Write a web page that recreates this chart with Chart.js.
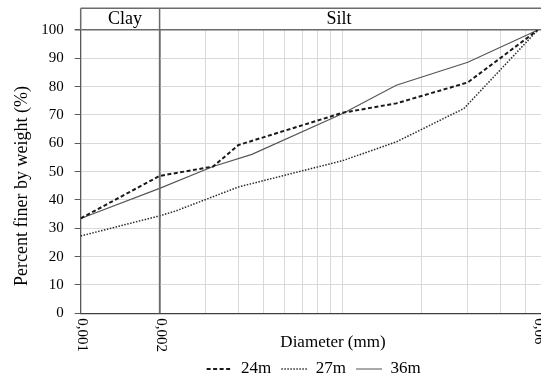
<!DOCTYPE html>
<html><head><meta charset="utf-8">
<script src="https://cdn.jsdelivr.net/npm/chart.js@4/dist/chart.umd.min.js"></script>
<style>
html,body{margin:0;padding:0;overflow:hidden;background:#fff;width:541px;height:380px;}
#wrap{position:relative;width:548px;height:388px;}
canvas{display:block;}
</style></head><body>
<div id="wrap"><canvas id="c" width="548" height="388"></canvas></div>
<script>
// ---- data ----
const seriesNames = ["24m", "27m", "36m"];
const diam24 = [0.001, 0.002, 0.0032, 0.004, 0.01, 0.016, 0.03, 0.0555];
const pct24  = [33.5, 48.5, 51.8, 59.4, 70.8, 74.1, 81.5, 100];
const diam27 = [0.001, 0.002, 0.0023, 0.004, 0.01, 0.016, 0.029, 0.0555];
const pct27  = [27.3, 34.4, 36.1, 44.6, 53.9, 60.5, 72.3, 100];
const diam36 = [0.001, 0.002, 0.0032, 0.0045, 0.01, 0.016, 0.03, 0.0555];
const pct36  = [33.5, 44.1, 51.8, 56.1, 70.5, 80.5, 88.6, 100];
const xGridValues = [0.001,0.002,0.003,0.004,0.005,0.006,0.007,0.008,0.009,
                     0.01,0.02,0.03,0.04,0.05,0.06];
const xLabelValues = [0.001, 0.002, 0.0555];
const xLabelTexts  = ["0,001", "0,002", "0,06"];
const zoneNames = ["Clay", "Silt"];
const zoneBoundary = 0.002;
const yTitle = "Percent finer by weight (%)";
const xTitle = "Diameter (mm)";

const FONT = "'Liberation Serif', 'Times New Roman', serif";
const pts = (xs, ys) => xs.map((x, i) => ({x: x, y: ys[i]}));

const overlay = {
  id: 'overlay',
  afterDraw(chart) {
    const ctx = chart.ctx, ca = chart.chartArea;
    const xs = chart.scales.x;
    const xb = xs.getPixelForValue(zoneBoundary);
    const boxTop = 8.3;
    ctx.save();
    ctx.strokeStyle = '#6b6b6b';
    ctx.lineWidth = 1.5;
    ctx.beginPath();
    ctx.moveTo(ca.left, boxTop); ctx.lineTo(ca.right, boxTop);
    ctx.moveTo(ca.left, boxTop); ctx.lineTo(ca.left, ca.top);
    ctx.moveTo(xb, boxTop); ctx.lineTo(xb, ca.bottom);
    ctx.stroke();
    ctx.fillStyle = '#000';
    ctx.font = "18px " + FONT;
    ctx.textAlign = 'center';
    ctx.textBaseline = 'middle';
    ctx.fillText(zoneNames[0], 125, 19.5);
    ctx.fillText(zoneNames[1], 339, 19.5);
    // x tick labels, rotated, reading top to bottom
    ctx.font = "15px " + FONT;
    ctx.textAlign = 'left';
    xLabelValues.forEach((v, i) => {
      const px = xs.getPixelForValue(v);
      ctx.save();
      ctx.translate(px + 1, ca.bottom + 5);
      ctx.rotate(Math.PI / 2);
      ctx.fillText(xLabelTexts[i], 0, 0);
      ctx.restore();
    });
    // x axis title
    ctx.font = "17px " + FONT;
    ctx.textAlign = 'center';
    ctx.fillText(xTitle, 333, 343);
    // y axis title
    ctx.font = "18px " + FONT;
    ctx.save();
    ctx.translate(22, 186);
    ctx.rotate(-Math.PI / 2);
    ctx.fillText(yTitle, 0, 0);
    ctx.restore();
    ctx.restore();
  }
};

new Chart(document.getElementById('c'), {
  type: 'line',
  data: {
    datasets: [
      {label: seriesNames[0], data: pts(diam24, pct24), borderColor: '#1a1a1a', borderWidth: 2,
       borderDash: [4, 2.5], pointRadius: 0, tension: 0, fill: false},
      {label: seriesNames[1], data: pts(diam27, pct27), borderColor: '#2a2a2a', borderWidth: 1.5,
       borderDash: [1.5, 1.5], pointRadius: 0, tension: 0, fill: false},
      {label: seriesNames[2], data: pts(diam36, pct36), borderColor: '#555555', borderWidth: 1.1,
       pointRadius: 0, tension: 0, fill: false}
    ]
  },
  options: {
    responsive: false,
    animation: false,
    devicePixelRatio: 1,
    layout: {padding: {top: 30, left: 0, right: 1.3, bottom: 0.5}},
    plugins: {
      tooltip: {enabled: false},
      legend: {
        position: 'bottom',
        fullSize: false,
        align: 'center',
        labels: {
          usePointStyle: true,
          pointStyle: 'line',
          pointStyleWidth: 26,
          padding: 10,
          color: '#000',
          font: {family: FONT, size: 17},
          generateLabels: (chart) => {
            const items = Chart.defaults.plugins.legend.labels.generateLabels(chart);
            items.forEach(it => {
              const ds = chart.data.datasets[it.datasetIndex];
              it.lineDash = ds.borderDash || [];
              it.lineWidth = ds.borderWidth;
              it.strokeStyle = ds.borderColor;
              it.fillStyle = ds.borderColor;
              it.pointStyle = 'line';
            });
            return items;
          }
        }
      }
    },
    scales: {
      x: {
        type: 'logarithmic',
        min: 0.001,
        max: 0.06,
        afterBuildTicks: (s) => { s.ticks = xGridValues.map(v => ({value: v})); },
        afterFit: (s) => { s.height = 37.2; },
        ticks: {display: false},
        grid: {
          drawTicks: false,
          color: (c) => (c.tick && Math.abs(c.tick.value - zoneBoundary) < 1e-9) ? '#555555' : '#d9d9d9',
          lineWidth: (c) => (c.tick && Math.abs(c.tick.value - zoneBoundary) < 1e-9) ? 1.5 : 1
        },
        border: {color: '#404040', width: 1.3}
      },
      y: {
        min: 0, max: 100,
        afterFit: (s) => { s.width = 80.7; },
        ticks: {stepSize: 10, padding: 11, color: '#000', font: {family: FONT, size: 15}},
        grid: {
          tickLength: 6,
          tickColor: '#595959',
          color: (c) => (c.tick && c.tick.value === 100) ? '#6b6b6b' : '#d9d9d9',
          lineWidth: (c) => (c.tick && c.tick.value === 100) ? 1.5 : 1
        },
        border: {color: '#595959', width: 1.3},
        title: {display: false}
      }
    }
  },
  plugins: [overlay]
});
</script>
</body></html>
